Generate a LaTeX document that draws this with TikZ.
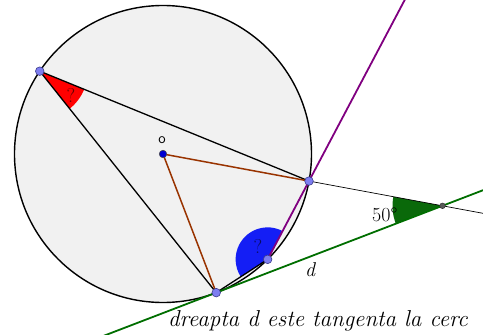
\documentclass[tikz,border=0pt]{standalone}
\usepackage{fontspec}
\usepackage{tikz}
\usetikzlibrary{
    angles,
    calc
}
\definecolor{DiskGray}{RGB}{241,241,241}
\definecolor{PtBlue}{RGB}{125,125,240}
\definecolor{PtEdge}{RGB}{60,60,140}
\definecolor{CenterBlue}{RGB}{0,0,210}
\definecolor{RadBrown}{RGB}{153,51,0}
\definecolor{SecPurple}{RGB}{128,0,128}
\definecolor{TanGreen}{RGB}{0,110,0}
\definecolor{AngRed}{RGB}{255,0,0}
\definecolor{AngBlue}{RGB}{20,30,245}
\definecolor{AngGreen}{RGB}{10,105,10}
\tikzset{
  chord/.style    = {black, line width=1.3pt},
  thinseg/.style  = {black, line width=0.7pt},
  radseg/.style   = {RadBrown, line width=1.5pt},
  tanline/.style  = {TanGreen, line width=1.8pt},
  secline/.style  = {SecPurple, line width=1.8pt},
  ptdot/.style    = {fill=PtBlue, draw=PtEdge, line width=0.6pt},
  lbl/.style      = {inner sep=0pt, font=\fontsize{20}{24}\selectfont}
}

\begin{document}
\begin{tikzpicture}[x=1pt, y=-1pt]
\clip (0,0) rectangle (483,335);
% circle and points on it
\coordinate (O) at (163,154);
\coordinate (A) at ($(O)+(-146.1:148.5)$);
\coordinate (B) at ($(O)+(10.5:148.5)$);
\coordinate (P) at ($(O)+(45.2:148.5)$);
\coordinate (T) at ($(O)+(69:148.5)$);
\coordinate (d1) at ($(T)+(159:140)$);
\coordinate (d2) at ($(T)+(-21:320)$);
\coordinate (Q) at (intersection of O--B and d1--d2);
\filldraw[fill=DiskGray, draw=black, line width=1.4pt] (O) circle[radius=148.5];
% angles
\pic[fill=AngRed, angle radius=48pt] {angle=T--A--B};
\pic[fill=AngBlue, angle radius=32pt] {angle=B--P--T};
\pic[fill=AngGreen, angle radius=50pt] {angle=B--Q--T};
% lines
\draw[chord] (A) -- (B);
\draw[chord] (A) -- (T);
\draw[chord] (T) -- (P);
\draw[radseg] (O) -- (B);
\draw[radseg] (O) -- (T);
\draw[thinseg] (B) -- ($(O)!1.3!(Q)$);
\draw[tanline] (d1) -- (d2);
\draw[secline] (P) -- ($(P)!3.6!(B)$);
% points
\foreach \p in {A,B,P,T}
  \filldraw[ptdot] (\p) circle[radius=4.3];
\filldraw[fill=CenterBlue, draw=black!70, line width=0.5pt] (O) circle[radius=3.8];
\filldraw[fill=black!65, draw=black!80, line width=0.5pt] (Q) circle[radius=2.8];
% labels
\node[font=\fontsize{15}{18}\selectfont\sffamily, inner sep=0pt] (labO) at (162,140) {o};
\node[lbl, text=black!60!AngRed] (qA) at (71,95) {?};
\node[lbl, text=black!60!AngBlue] (qP) at (258,246) {?};
\node[lbl, anchor=base west] (ang) at (372,221) {50°};
\node[lbl, anchor=base west, font=\fontsize{20}{24}\selectfont\itshape] (labd) at (305,276) {d};
\node[lbl, anchor=base west, font=\fontsize{23}{27}\selectfont\itshape] (note) at (168,326) {dreapta d este tangenta la cerc};
\end{tikzpicture}
\end{document}
